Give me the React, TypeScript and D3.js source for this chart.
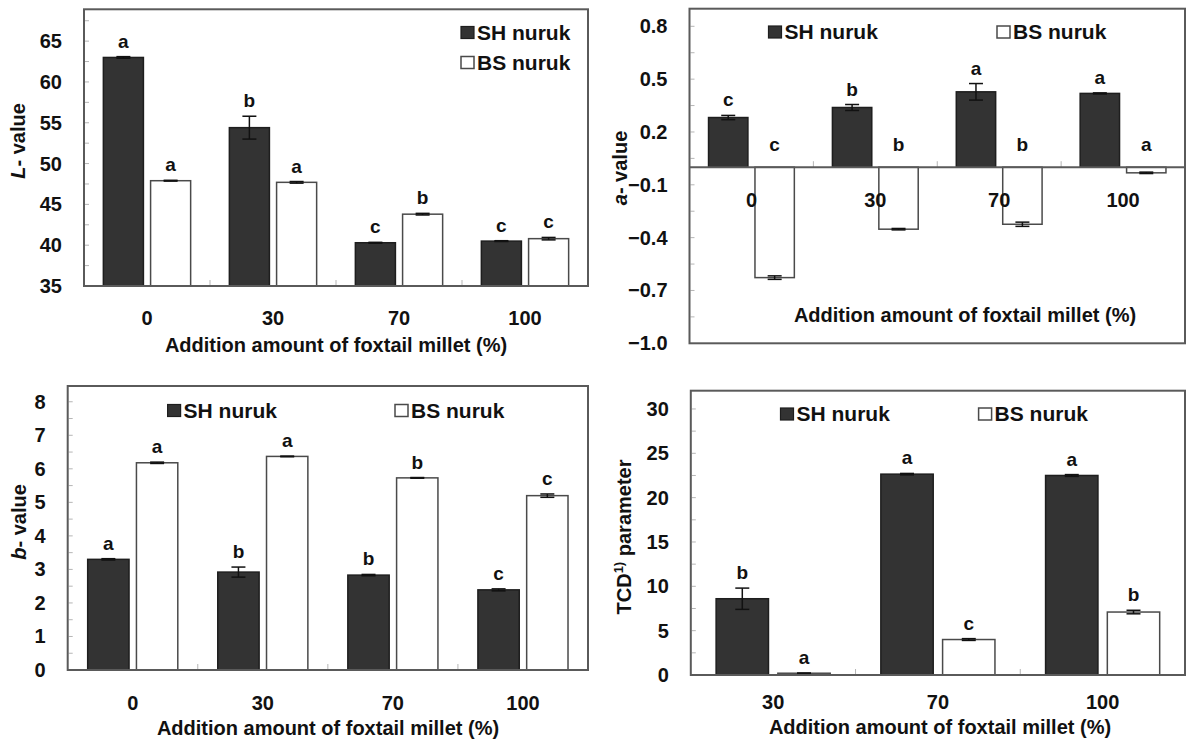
import React from "react";
import * as d3 from "d3";

// categories (addition amount of foxtail millet, %)
const amounts = ["0", "30", "70", "100"];
const amountsTcd = ["30", "70", "100"];
const seriesNames = ["SH nuruk", "BS nuruk"];

// L-value
const lSh = [63.0, 54.4, 40.3, 40.5];
const lShErr = [0.1, 1.4, 0.05, 0.05];
const lBs = [47.9, 47.7, 43.8, 40.8];
const lBsErr = [0.05, 0.1, 0.1, 0.15];
const lShLetters = ["a", "b", "c", "c"];
const lBsLetters = ["a", "a", "b", "c"];
const lTicks = [35, 40, 45, 50, 55, 60, 65];

// a-value
const aSh = [0.282, 0.339, 0.428, 0.419];
const aShErr = [0.012, 0.017, 0.047, 0.003];
const aBs = [-0.627, -0.352, -0.324, -0.032];
const aBsErr = [0.01, 0.004, 0.012, 0.004];
const aShLetters = ["c", "b", "a", "a"];
const aBsLetters = ["c", "b", "b", "a"];
const aTicks = [-1.0, -0.7, -0.4, -0.1, 0.2, 0.5, 0.8];

// b-value
const bSh = [3.3, 2.92, 2.83, 2.39];
const bShErr = [0.02, 0.15, 0.02, 0.03];
const bBs = [6.18, 6.37, 5.73, 5.2];
const bBsErr = [0.02, 0.01, 0.01, 0.05];
const bShLetters = ["a", "b", "b", "c"];
const bBsLetters = ["a", "a", "b", "c"];
const bTicks = [0, 1, 2, 3, 4, 5, 6, 7, 8];

// TCD parameter
const tSh = [8.6, 22.65, 22.5];
const tShErr = [1.2, 0.08, 0.1];
const tBs = [0.2, 4.0, 7.1];
const tBsErr = [0.02, 0.1, 0.2];
const tShLetters = ["b", "a", "a"];
const tBsLetters = ["a", "c", "b"];
const tTicks = [0, 5, 10, 15, 20, 25, 30];

const FONT = "'Liberation Sans', Arial, Helvetica, sans-serif";
const SH_FILL = "#333333";
const FRAME = "#5a5a5a";

type Cfg = {
  frame: [number, number, number, number];
  domain: [number, number];
  ticks: number[];
  minorStep: number;
  fmt: (v: number) => string;
  cats: string[];
  sh: number[]; shErr: number[]; shLet: string[];
  bs: number[]; bsErr: number[]; bsLet: string[];
  catY: number;
  titleX: number; titleY: number;
  yLabel: React.ReactNode; yLabelX: number; yLabelY: number;
  legend: [number, number, number, number];
};

function Panel({ c }: { c: Cfg }) {
  const [x0, y0, x1, y1] = c.frame;
  const x = d3.scaleBand<string>().domain(c.cats).range([x0, x1]);
  const inner = d3.scaleBand<string>().domain(["SH", "BS"]).range([0, x.bandwidth()])
    .paddingInner(0.152).paddingOuter(0.41);
  const y = d3.scaleLinear().domain(c.domain).range([y1, y0]);
  const base = Math.max(c.domain[0], 0);
  const minor = d3.range(c.domain[0], c.domain[1], c.minorStep).slice(1);
  const series = [
    { key: "SH", v: c.sh, e: c.shErr, l: c.shLet, fill: SH_FILL, stroke: "#1e1e1e" },
    { key: "BS", v: c.bs, e: c.bsErr, l: c.bsLet, fill: "#ffffff", stroke: "#4a4a4a" },
  ];
  const w = inner.bandwidth();
  const cap = 7;
  const [lx1, ly1, lx2, ly2] = c.legend;
  return (
    <g fontFamily={FONT} fontWeight="bold">
      {minor.map((t, i) => (
        <line key={"m" + i} x1={x0 + 1} x2={x0 + 5} y1={y(t)} y2={y(t)} stroke="#b5b5b5" strokeWidth={1} />
      ))}
      {c.cats.slice(1).map((cat) => (
        <line key={"s" + cat} x1={x(cat)!} x2={x(cat)!} y1={y(base)} y2={y(base) - 6} stroke="#b5b5b5" strokeWidth={1} />
      ))}
      {series.map((s) =>
        c.cats.map((cat, i) => {
          const v = s.v[i];
          const bx = x(cat)! + inner(s.key)!;
          const top = y(Math.max(v, base));
          const h = Math.abs(y(v) - y(base));
          const cx = bx + w / 2;
          const eLo = y(v - s.e[i]);
          const eHi = y(v + s.e[i]);
          const ly = v >= base ? eHi - 9 : y(base) - 16;
          return (
            <g key={s.key + cat}>
              <rect x={bx} y={top} width={w} height={h} fill={s.fill} stroke={s.stroke} strokeWidth={1.5} />
              <line x1={cx} x2={cx} y1={eLo} y2={eHi} stroke="#111" strokeWidth={1.5} />
              <line x1={cx - cap} x2={cx + cap} y1={eLo} y2={eLo} stroke="#111" strokeWidth={1.5} />
              <line x1={cx - cap} x2={cx + cap} y1={eHi} y2={eHi} stroke="#111" strokeWidth={1.5} />
              <text x={cx} y={ly} textAnchor="middle" fontSize={19} fill="#111">{s.l[i]}</text>
            </g>
          );
        })
      )}
      {base > c.domain[0] && (
        <line x1={x0} x2={x1} y1={y(base)} y2={y(base)} stroke={FRAME} strokeWidth={2} />
      )}
      <rect x={x0} y={y0} width={x1 - x0} height={y1 - y0} fill="none" stroke={FRAME} strokeWidth={2} />
      {c.ticks.map((t) => (
        <text key={"t" + t} x={x0 - 22} y={y(t)} dy="0.35em" textAnchor="end" fontSize={20} fill="#111">
          {c.fmt(t)}
        </text>
      ))}
      {c.cats.map((cat) => (
        <text key={"c" + cat} x={x(cat)! + x.bandwidth() / 2} y={c.catY} dy="0.35em" textAnchor="middle" fontSize={20} fill="#111">
          {cat}
        </text>
      ))}
      <text x={c.titleX} y={c.titleY} dy="0.35em" textAnchor="middle" fontSize={20} fill="#111">
        Addition amount of foxtail millet (%)
      </text>
      <text transform={`translate(${c.yLabelX},${c.yLabelY}) rotate(-90)`} dy="0.35em" textAnchor="middle" fontSize={20} fill="#111">
        {c.yLabel}
      </text>
      <rect x={lx1} y={ly1 - 6} width={13} height={12} fill={SH_FILL} stroke="#1e1e1e" strokeWidth={1.2} />
      <text x={lx1 + 16} y={ly1} dy="0.35em" fontSize={21} fill="#111">{seriesNames[0]}</text>
      <rect x={lx2} y={ly2 - 6} width={13} height={12} fill="#fff" stroke="#4a4a4a" strokeWidth={1.5} />
      <text x={lx2 + 16} y={ly2} dy="0.35em" fontSize={21} fill="#111">{seriesNames[1]}</text>
    </g>
  );
}

const panels: Cfg[] = [
  {
    frame: [84, 9.3, 588, 286], domain: [35, 68.9], ticks: lTicks, minorStep: 2.5, fmt: (v) => String(v),
    cats: amounts, sh: lSh, shErr: lShErr, shLet: lShLetters, bs: lBs, bsErr: lBsErr, bsLet: lBsLetters,
    catY: 318, titleX: 336, titleY: 345,
    yLabel: <><tspan fontStyle="italic">L</tspan>- value</>, yLabelX: 18, yLabelY: 141,
    legend: [461, 32.5, 461, 62.5],
  },
  {
    frame: [689.5, 8.7, 1185, 343.3], domain: [-1.0, 0.9], ticks: aTicks, minorStep: 0.15, fmt: d3.format(".1f"),
    cats: amounts, sh: aSh, shErr: aShErr, shLet: aShLetters, bs: aBs, bsErr: aBsErr, bsLet: aBsLetters,
    catY: 200, titleX: 965, titleY: 315,
    yLabel: <><tspan fontStyle="italic">a</tspan>- value</>, yLabelX: 619.5, yLabelY: 168,
    legend: [768.5, 32, 997, 32],
  },
  {
    frame: [67.7, 386, 588, 670], domain: [0, 8.47], ticks: bTicks, minorStep: 0.5, fmt: (v) => String(v),
    cats: amounts, sh: bSh, shErr: bShErr, shLet: bShLetters, bs: bBs, bsErr: bBsErr, bsLet: bBsLetters,
    catY: 703, titleX: 328, titleY: 728,
    yLabel: <><tspan fontStyle="italic">b</tspan>- value</>, yLabelX: 19, yLabelY: 522,
    legend: [167.6, 410.5, 395, 410.5],
  },
  {
    frame: [690.8, 390.7, 1185, 675], domain: [0, 32.06], ticks: tTicks, minorStep: 2.5, fmt: (v) => String(v),
    cats: amountsTcd, sh: tSh, shErr: tShErr, shLet: tShLetters, bs: tBs, bsErr: tBsErr, bsLet: tBsLetters,
    catY: 701.5, titleX: 940, titleY: 726.5,
    yLabel: <>TCD<tspan dy={-8} fontSize={13}>1)</tspan><tspan dy={8}> parameter</tspan></>, yLabelX: 624, yLabelY: 537,
    legend: [780.5, 414, 978.6, 414],
  },
];

export default function App() {
  return (
    <svg width={1186} height={740} style={{ position: "absolute", left: 0, top: 0, background: "#fff" }}>
      <rect width={1186} height={740} fill="#fff" />
      {panels.map((c, i) => <Panel key={i} c={c} />)}
    </svg>
  );
}
